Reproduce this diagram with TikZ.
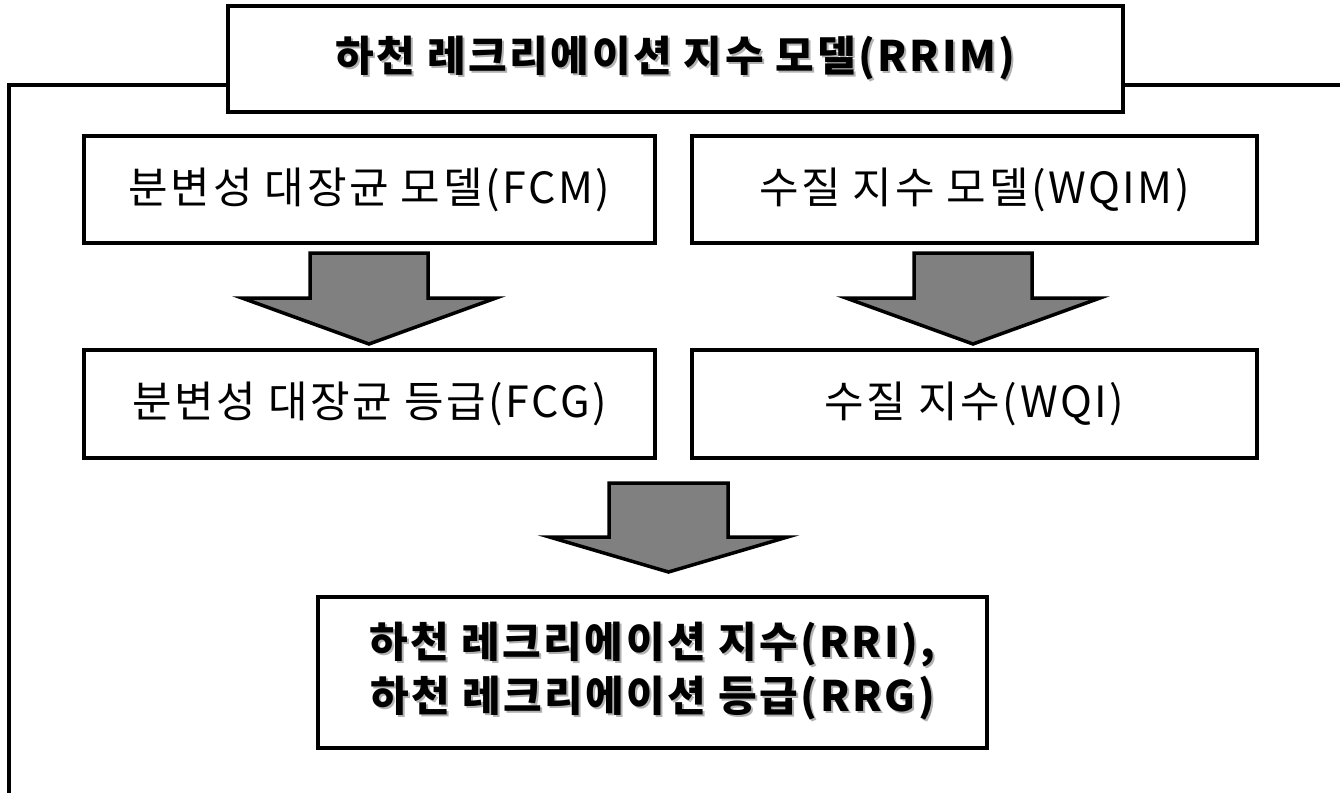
\documentclass[tikz,border=0pt]{standalone}
\usepackage{fontspec}
\setmainfont{Noto Sans CJK KR}[LetterSpace=6]
\usetikzlibrary{calc}
\newcommand\shtext[1]{\makebox[0pt][l]{\kern2pt\raisebox{-2pt}{\textcolor{black!30}{#1}}}#1}
\tikzset{
  box/.style={draw=black, line width=4.5pt, fill=white, rectangle, inner sep=0pt, align=center},
  reg/.style={font=\fontsize{43}{50}\selectfont},
  bld/.style={font=\fontsize{42}{54}\selectfont\bfseries},
  frame/.style={draw=black, line width=4.5pt},
  blockarrow/.style={draw=black, fill=black!50, line width=3.5pt, line join=miter}
}
\begin{document}
\begin{tikzpicture}[x=1pt,y=-1pt]
\useasboundingbox (0,0) rectangle (1340,792);
% outer frame
\coordinate (frR) at (1340,85);
\coordinate (frTL) at (9,85);
\coordinate (frB) at (9,794);
\node[box, bld, minimum width=895pt, minimum height=106pt] (title) at (675.5,59) {\shtext{하천 레크리에이션 지수 모델(RRIM)}};
\draw[frame] (frR) -- (title.east |- frR);
\draw[frame] (title.west |- frTL) -- (frTL) -- (frB);
% boxes
\node[box, reg, minimum width=571pt, minimum height=107pt] (fcm) at (369.5,189.5) {분변성 대장균 모델(FCM)};
\node[box, reg, minimum width=565pt, minimum height=107pt] (wqim) at (974.5,189.5) {수질 지수 모델(WQIM)};
\node[box, reg, minimum width=571pt, minimum height=108pt] (fcg) at (369.5,404) {분변성 대장균 등급(FCG)};
\node[box, reg, minimum width=565pt, minimum height=108pt] (wqi) at (974.5,404) {수질 지수(WQI)};
\node[box, bld, minimum width=669pt, minimum height=151pt] (rri) at (652.5,672.5) {\shtext{하천 레크리에이션 지수(RRI),}\\\shtext{하천 레크리에이션 등급(RRG)}};
% block arrows
\coordinate (a1) at (369,253);
\draw[blockarrow] ($(a1)+(-59,0)$) -- ($(a1)+(59,0)$) -- ($(a1)+(59,45)$) -- ($(a1)+(127,45)$) -- ($(a1)+(0,91)$) -- ($(a1)+(-127,45)$) -- ($(a1)+(-59,45)$) -- cycle;
\coordinate (a2) at (973,253);
\draw[blockarrow] ($(a2)+(-59,0)$) -- ($(a2)+(59,0)$) -- ($(a2)+(59,45)$) -- ($(a2)+(127,45)$) -- ($(a2)+(0,91)$) -- ($(a2)+(-127,45)$) -- ($(a2)+(-59,45)$) -- cycle;
\coordinate (a3) at (668.5,483);
\draw[blockarrow] ($(a3)+(-59.5,0)$) -- ($(a3)+(59.5,0)$) -- ($(a3)+(59.5,54)$) -- ($(a3)+(119,54)$) -- ($(a3)+(0,89)$) -- ($(a3)+(-119,54)$) -- ($(a3)+(-59.5,54)$) -- cycle;
\end{tikzpicture}
\end{document}
